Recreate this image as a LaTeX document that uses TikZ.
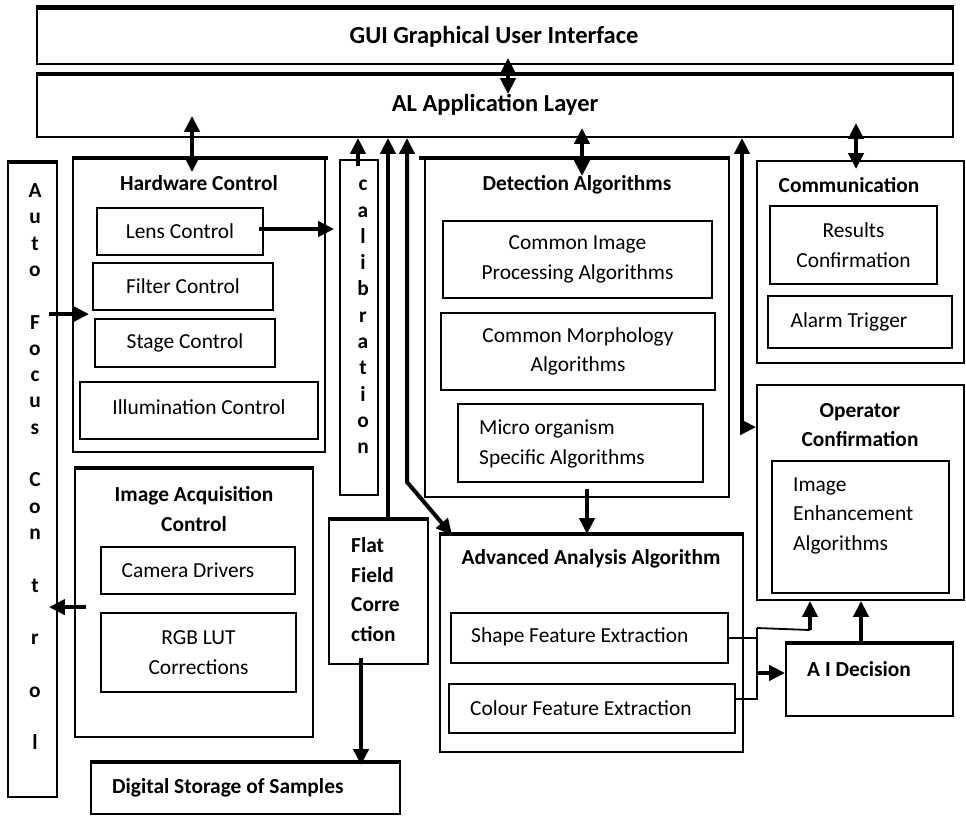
\documentclass[tikz,border=0pt]{standalone}
\usepackage{fontspec}
\setmainfont{Carlito}
\usetikzlibrary{arrows.meta,fit,calc}
\tikzset{
 box/.style={draw, line width=1.8pt, inner sep=0pt},
 txt/.style={font=\fontsize{21.4}{29.5}\selectfont, inner sep=0pt, align=center},
 btxt/.style={font=\fontsize{21.4}{29.5}\selectfont\bfseries, inner sep=0pt, align=center},
 bigtxt/.style={font=\fontsize{24.5}{29.5}\selectfont\bfseries, inner sep=0pt, align=center},
 ltxt/.style={font=\fontsize{21.4}{29.5}\selectfont, inner sep=0pt, align=left, anchor=west},
 bltxt/.style={font=\fontsize{21.4}{29.5}\selectfont\bfseries, inner sep=0pt, align=left, anchor=west},
 vtxt/.style={font=\fontsize{21.4}{26.3}\selectfont\bfseries, inner sep=0pt, align=center, anchor=north},
 arr/.style={line width=4pt, -{Triangle[length=16pt,width=15pt]}},
 darr/.style={line width=4pt, {Triangle[length=16pt,width=15pt]}-{Triangle[length=16pt,width=15pt]}},
 thinline/.style={line width=1.8pt},
 topline/.style={line width=3.5pt},
}
% box from corners, with optional centred text node named <name>t
\newcommand\mybox[5]{\node[box, fit={(#2,#3) (#4,#5)}] (#1) {};}
\newcommand\myboxt[6]{\node[box, fit={(#2,#3) (#4,#5)}] (#1) {};\node[txt] (#1t) at (#1.center) {#6};}
\begin{document}
\begin{tikzpicture}[x=1pt,y=-1pt]
\useasboundingbox (0,0) rectangle (966,815);

% x positions of vertical connectors
\coordinate (xA) at (508,0);
\coordinate (xB) at (192,0);
\coordinate (xC) at (358,0);
\coordinate (xD) at (388,0);
\coordinate (xE) at (407,0);
\coordinate (xF) at (582,0);
\coordinate (xG) at (742,0);
\coordinate (xH) at (856,0);
\coordinate (xI) at (361,0);
\coordinate (xJ) at (587,0);
\coordinate (jx) at (757,0);

% GUI and AL
\mybox{gui}{37}{8}{953}{64}
\draw[line width=5pt] (gui.north west) -- (gui.north east);
\node[bigtxt] (guit) at (494,37) {GUI Graphical User Interface};
\mybox{al}{37}{75}{953}{137}
\draw[line width=4pt] (al.north west) -- (al.north east);
\node[bigtxt] (alt) at (495,105) {AL Application Layer};

% Auto Focus Control
\mybox{af}{8}{163}{57}{797}
\draw[topline] (af.north west) -- (af.north east);
\node[vtxt] (aft) at (35,183.5) {A\\u\\t\\o\\~\\F\\o\\c\\u\\s\\~\\C\\o\\n\\~\\t\\~\\r\\~\\o\\~\\l};

% Hardware Control
\mybox{hw}{73}{159}{325}{452}
\draw[topline] (hw.north west) -- ($(hw.north east)+(2,0)$);
\node[btxt] (hwt) at (199,183) {Hardware Control};
\myboxt{lens}{97}{208}{263}{255}{Lens Control}
\myboxt{filter}{93}{263}{273}{310}{Filter Control}
\myboxt{stage}{95}{319}{275}{367}{Stage Control}
\mybox{illum}{80}{382}{318}{439}
\node[txt] (illumt) at (199,407) {Illumination Control};

% calibration
\mybox{cal}{340}{160}{378}{495}
\node[vtxt] (calt) at (363,180) {c\\a\\l\\i\\b\\r\\a\\t\\i\\o\\n};

% Image Acquisition Control
\mybox{ia}{75}{469}{313}{737}
\draw[topline] (ia.north west) -- (ia.north east);
\node[btxt] (iat) at (194,509) {Image Acquisition\\Control};
\mybox{cam}{101}{547}{295}{594}
\node[txt] (camt) at (188,570) {Camera Drivers};
\myboxt{rgb}{101}{613}{296}{692}{RGB LUT\\Corrections}

% Flat Field Correction
\mybox{flat}{329}{520}{428}{664}
\draw[topline] (flat.north west) -- (flat.north east);
\node[bltxt] (flatt) at (351,589.5) {Flat\\Field\\Corre\\ction};

% Digital Storage
\mybox{dig}{91}{763}{400}{814}
\draw[topline] (dig.north west) -- (dig.north east);
\node[bltxt] (digt) at (112,788) {Digital Storage of Samples};

% Detection Algorithms
\mybox{det}{425}{159}{729}{497}
\draw[topline] ($(det.north west)+(-5,0)$) -- (det.north east);
\node[btxt] (dett) at (577,185) {Detection Algorithms};
\myboxt{cip}{443}{221}{712}{298}{Common Image\\Processing Algorithms}
\myboxt{morph}{441}{313}{715}{390}{Common Morphology\\Algorithms}
\mybox{micro}{458}{404}{703}{482}
\node[ltxt] (microt) at (479,444) {Micro organism\\Specific Algorithms};

% Communication
\mybox{comm}{757}{161}{964}{363}
\node[btxt] (commt) at (849,185) {Communication};
\myboxt{res}{770}{206}{937}{284}{Results\\Confirmation}
\mybox{alarm}{768}{296}{952}{348}
\node[txt] (alarmt) at (849,322) {Alarm Trigger};

% Operator Confirmation
\mybox{op}{757}{385}{964}{600}
\node[btxt] (opt) at (860,425) {Operator\\Confirmation};
\mybox{enh}{772}{461}{949}{593}
\node[ltxt] (enht) at (793,515.5) {Image\\Enhancement\\Algorithms};

% Advanced Analysis Algorithm
\mybox{adv}{440}{535}{743}{752}
\draw[line width=4pt] (adv.north west) -- (adv.north east);
\node[btxt] (advt) at (591,559) {Advanced Analysis Algorithm};
\mybox{shape}{451}{613}{728}{663}
\node[ltxt] (shapet) at (471,637) {Shape Feature Extraction};
\mybox{colour}{449}{684}{735}{733}
\node[ltxt] (colourt) at (470,708) {Colour Feature Extraction};

% A I Decision
\mybox{ai}{786}{644}{953}{716}
\draw[topline] (ai.north west) -- (ai.north east);
\node[bltxt] (ait) at (807,669) {A I Decision};

% ---- connectors ----
\draw[darr] ($(gui.south -| xA)+(0,-7)$) -- ($(al.north -| xA)+(0,20)$);
\draw[darr] ($(al.south -| xB)+(0,-22)$) -- ($(hw.north -| xB)+(0,14)$);
\draw[arr] ($(cal.north -| xC)+(0,7)$) -- (al.south -| xC);
\draw[arr] (flat.north -| xD) -- (al.south -| xD);
\coordinate (bendE) at (407,482);
\draw[darr] (al.south -| xE) -- (bendE) -- ($(adv.north west)+(13,1)$);
\draw[darr] ($(al.south -| xF)+(0,-10)$) -- ($(det.north -| xF)+(0,18)$);
\draw[darr] (al.south -| xG) |- ($(op.north west)+(0,43)$);
\draw[darr] ($(al.south -| xH)+(0,-15)$) -- ($(comm.north -| xH)+(0,9)$);
\draw[arr] ($(lens.east)+(-5,-2.5)$) -- ($(cal.west |- lens.east)+(-5,-2.5)$);
\draw[arr] ($(af.north east)+(-9,152)$) -- ($(hw.north west)+(17,156)$);
\draw[arr] ($(ia.north west)+(12,139)$) -- ($(af.north east)+(-9,445)$);
\draw[arr] ($(flat.south -| xI)+(0,-7)$) -- ($(dig.north -| xI)+(0,3)$);
\draw[arr] ($(det.south -| xJ)+(0,-9)$) -- (adv.north -| xJ);

\coordinate (j1) at (757,628);
\coordinate (j2) at (757,700);
\coordinate (j3) at (810,630);
\coordinate (j4) at (757,673);
\draw[thinline] (shape.east) -- (shape.east -| jx);
\draw[thinline] ($(colour.east)+(-2,-9.5)$) -- ($(colour.east -| jx)+(0,-9.5)$);
\draw[thinline] (j1) -- (j2);
\draw[thinline] (j1) -- (j3);
\draw[arr] (j3) -- (op.south -| j3);
\draw[arr] (j4) -- (ai.west |- j4);
\draw[arr] ($(ai.north)+(-8.5,0)$) -- ($(op.south)+(0.5,0)$);
\end{tikzpicture}
\end{document}
